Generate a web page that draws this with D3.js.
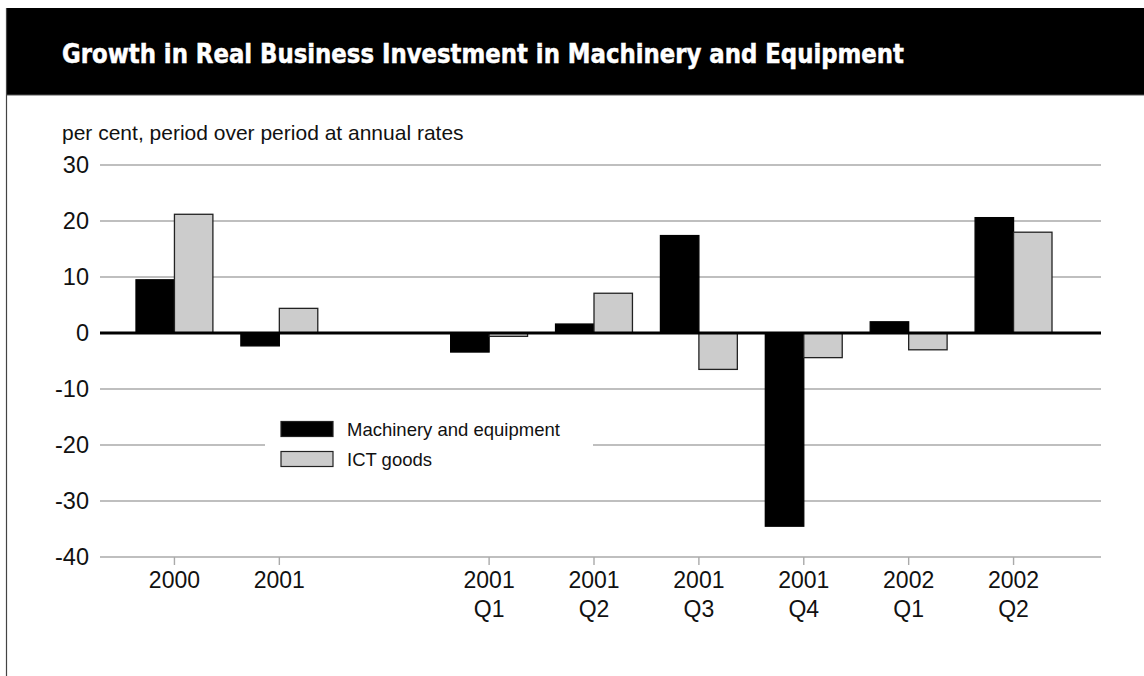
<!DOCTYPE html>
<html>
<head>
<meta charset="utf-8">
<script src="https://cdn.jsdelivr.net/npm/d3@7"></script>
<style>
  html, body { margin: 0; padding: 0; background: #fff; }
  svg { display: block; }
  text { font-family: "Liberation Sans", Arial, Helvetica, sans-serif; }
</style>
</head>
<body>
<svg id="chart" width="1144" height="676"></svg>
<script>
// ---- data ----
const categories = ["2000", "2001", "gap", "2001 Q1", "2001 Q2", "2001 Q3", "2001 Q4", "2002 Q1", "2002 Q2"];
const tickLines = {
  "2000": ["2000"], "2001": ["2001"],
  "2001 Q1": ["2001", "Q1"], "2001 Q2": ["2001", "Q2"], "2001 Q3": ["2001", "Q3"],
  "2001 Q4": ["2001", "Q4"], "2002 Q1": ["2002", "Q1"], "2002 Q2": ["2002", "Q2"]
};
const machinery = [9.5, -2.3, null, -3.4, 1.6, 17.4, -34.5, 2.0, 20.6];
const ictGoods  = [21.2, 4.4, null, -0.6, 7.1, -6.5, -4.4, -3.0, 18.0];
const seriesNames = ["Machinery and equipment", "ICT goods"];
const yTicks = [30, 20, 10, 0, -10, -20, -30, -40];
const title = "Growth in Real Business Investment in Machinery and Equipment";
const subtitle = "per cent, period over period at annual rates";

const svg = d3.select("#chart");

// ---- frame ----
svg.append("rect").attr("x", 6).attr("y", 8).attr("width", 1138).attr("height", 87).attr("fill", "#000");
svg.append("line").attr("x1", 6).attr("x2", 1144).attr("y1", 95).attr("y2", 95).attr("stroke", "#555").attr("stroke-width", 1.2);
svg.append("line").attr("x1", 6.5).attr("x2", 6.5).attr("y1", 8).attr("y2", 676).attr("stroke", "#444").attr("stroke-width", 1.2);

svg.append("text").attr("x", 62).attr("y", 63)
  .attr("fill", "#fff")
  .attr("stroke", "#fff").attr("stroke-width", 0.5)
  .style("font-family", "'Liberation Sans Narrow', 'DejaVu Sans Condensed', 'Arial Narrow', sans-serif")
  .style("font-weight", "bold").style("font-size", "27px")
  .attr("textLength", 842).attr("lengthAdjust", "spacingAndGlyphs")
  .text(title);

svg.append("text").attr("x", 62).attr("y", 140)
  .attr("fill", "#111").style("font-size", "21px").text(subtitle);

// ---- scales ----
const plotLeft = 100, plotRight = 1101;
const y = d3.scaleLinear().domain([-40, 30]).range([557, 165]);
const x = d3.scaleBand().domain(categories).range([122, 1066]).paddingInner(0).paddingOuter(0);
const x1 = d3.scaleBand().domain([0, 1]).range([0, x.bandwidth()]).paddingInner(0).paddingOuter(0.364);

// ---- gridlines ----
svg.append("g").selectAll("line").data(yTicks.filter(d => d !== 0)).join("line")
  .attr("x1", plotLeft).attr("x2", plotRight)
  .attr("y1", d => y(d)).attr("y2", d => y(d))
  .attr("stroke", "#aaa").attr("stroke-width", 1.4);

// y labels
svg.append("g").selectAll("text").data(yTicks).join("text")
  .attr("x", 89).attr("y", d => y(d)).attr("dy", "0.36em")
  .attr("text-anchor", "end").attr("fill", "#111").style("font-size", "23.5px")
  .text(d => d);

// x axis ticks
const tickCats = categories.filter(c => c !== "gap");
svg.append("g").selectAll("line").data(tickCats).join("line")
  .attr("x1", d => x(d) + x.bandwidth() / 2).attr("x2", d => x(d) + x.bandwidth() / 2)
  .attr("y1", y(-40)).attr("y2", y(-40) + 8)
  .attr("stroke", "#aaa").attr("stroke-width", 1.4);

const xl = svg.append("g").selectAll("text").data(tickCats).join("text")
  .attr("x", d => x(d) + x.bandwidth() / 2).attr("y", 588)
  .attr("text-anchor", "middle").attr("fill", "#111").style("font-size", "23px");
xl.selectAll("tspan").data(d => tickLines[d].map(t => ({t, c: d}))).join("tspan")
  .attr("x", d => x(d.c) + x.bandwidth() / 2)
  .attr("dy", (d, i) => i === 0 ? 0 : 28.5)
  .text(d => d.t);

// ---- legend (white box interrupting grid) ----
const lg = svg.append("g");
lg.append("rect").attr("x", 265).attr("y", 405).attr("width", 328).attr("height", 75).attr("fill", "#fff");
const legendFill = ["#000", "#ccc"];
seriesNames.forEach((name, i) => {
  lg.append("rect").attr("x", 281).attr("y", 421.5 + i * 30).attr("width", 52).attr("height", 15)
    .attr("fill", legendFill[i]).attr("stroke", "#222").attr("stroke-width", 1.2);
  lg.append("text").attr("x", 347).attr("y", 436 + i * 29.5)
    .attr("fill", "#111").style("font-size", "18.5px").text(name);
});

// ---- bars ----
const series = [machinery, ictGoods];
series.forEach((vals, si) => {
  svg.append("g").selectAll("rect")
    .data(categories.map((c, i) => ({c, v: vals[i]})).filter(d => d.v !== null))
    .join("rect")
    .attr("x", d => x(d.c) + x1(si))
    .attr("width", x1.bandwidth())
    .attr("y", d => y(Math.max(0, d.v)))
    .attr("height", d => Math.abs(y(d.v) - y(0)))
    .attr("fill", legendFill[si])
    .attr("stroke", si === 0 ? "#000" : "#222")
    .attr("stroke-width", 1.3);
});

// zero line
svg.append("line").attr("x1", plotLeft).attr("x2", plotRight)
  .attr("y1", y(0)).attr("y2", y(0))
  .attr("stroke", "#000").attr("stroke-width", 3.2);
</script>
</body>
</html>
